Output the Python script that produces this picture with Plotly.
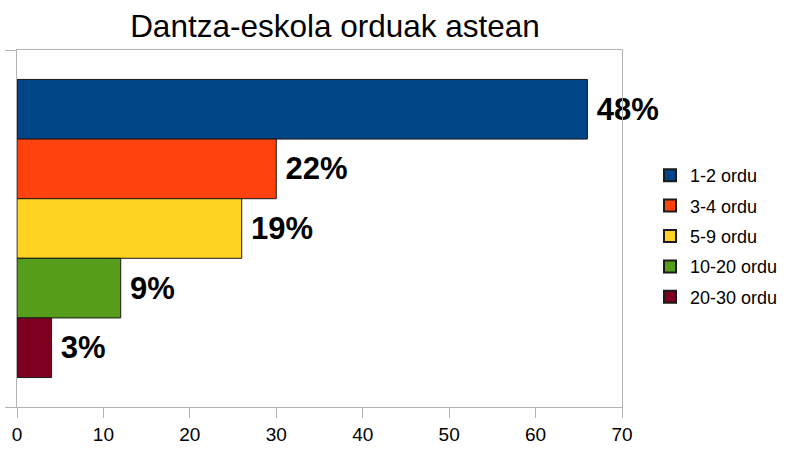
import plotly.graph_objects as go

categories = ["1-2 ordu", "3-4 ordu", "5-9 ordu", "10-20 ordu", "20-30 ordu"]
values = [66, 30, 26, 12, 4]
labels = ["48%", "22%", "19%", "9%", "3%"]
colors = ["#004586", "#ff420e", "#ffd320", "#579d1c", "#7e0021"]
x_ticks = [0, 10, 20, 30, 40, 50, 60, 70]

FONT = "Liberation Sans, Arial, sans-serif"

fig = go.Figure()
for name, v, lab, c in zip(categories, values, labels, colors):
    fig.add_trace(go.Bar(
        x=[v], y=[""], name=name, orientation="h", legendgroup=name,
        marker=dict(color=c, line=dict(color="#1a1a1a", width=1)),
        text=["\u2009" + lab], textposition="outside",
        textfont=dict(family=FONT, size=31, color="black", weight="bold"),
        cliponaxis=False,
        hoverinfo="skip",
    ))

fig.update_layout(
    width=788, height=450,
    margin=dict(l=17, r=166, t=50, b=43, autoexpand=False),
    paper_bgcolor="white", plot_bgcolor="white",
    barmode="group", bargap=0.165, bargroupgap=0,
    title=dict(text="Dantza-eskola orduak astean", x=335/788, xanchor="center",
               y=1 - 26/450, yanchor="middle",
               font=dict(family=FONT, size=31.5, color="black")),
    font=dict(family=FONT, color="black"),
    showlegend=True,
    legend=dict(xref="container", yref="container",
                x=650/788, xanchor="left", y=1 - 236/450, yanchor="middle",
                font=dict(family=FONT, size=18, color="black"),
                tracegroupgap=4, itemsizing="constant",
                bgcolor="rgba(0,0,0,0)"),
)
fig.update_xaxes(
    range=[0, 70], tickvals=x_ticks, ticktext=[str(t) for t in x_ticks],
    showgrid=False, zeroline=False, automargin=False,
    showline=True, linecolor="#b3b3b3", linewidth=1, mirror=True,
    ticks="outside", ticklen=10, tickcolor="#b3b3b3", tickwidth=1,
    tickfont=dict(family=FONT, size=19, color="black"),
    fixedrange=True,
)
fig.update_yaxes(
    autorange="reversed", type="category",
    showgrid=False, zeroline=False, automargin=False,
    showline=True, linecolor="#b3b3b3", linewidth=1, mirror=True,
    ticks="outside", ticklen=11, tickcolor="#b3b3b3", tickwidth=1,
    tickson="boundaries", showticklabels=False,
    fixedrange=True,
)

fig.write_html("out.html")
